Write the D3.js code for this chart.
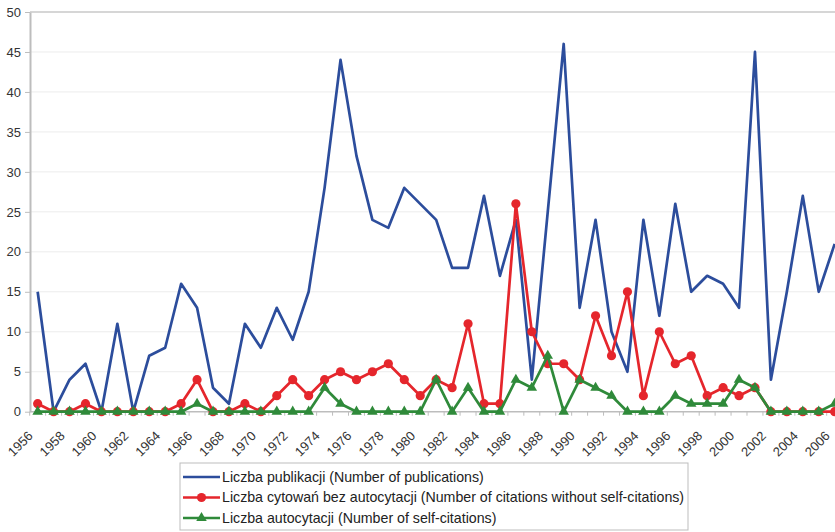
<!DOCTYPE html>
<html>
<head>
<meta charset="utf-8">
<script src="https://cdn.jsdelivr.net/npm/d3@7"></script>
<style>
  body { margin: 0; background: #fff; }
  svg { display: block; font-family: "Liberation Sans", Arial, sans-serif; }
  .axis path, .axis line { stroke: #bdbdbd; }
  .axis text { fill: #333; }
</style>
</head>
<body>
<svg id="chart" width="835" height="532"></svg>
<script>
"use strict";
// years on the category axis
const years = d3.range(1956, 2007);
const yTicks = [0, 5, 10, 15, 20, 25, 30, 35, 40, 45, 50];

const publications = [15, 0, 4, 6, 0, 11, 0, 7, 8, 16, 13, 3, 1, 11, 8, 13, 9, 15, 28, 44,
  32, 24, 23, 28, 26, 24, 18, 18, 27, 17, 24, 4, 25, 46, 13, 24, 10, 5, 24, 12,
  26, 15, 17, 16, 13, 45, 4, 15, 27, 15, 21];
const citations = [1, 0, 0, 1, 0, 0, 0, 0, 0, 1, 4, 0, 0, 1, 0, 2, 4, 2, 4, 5,
  4, 5, 6, 4, 2, 4, 3, 11, 1, 1, 26, 10, 6, 6, 4, 12, 7, 15, 2, 10,
  6, 7, 2, 3, 2, 3, 0, 0, 0, 0, 0];
const selfCitations = [0, 0, 0, 0, 0, 0, 0, 0, 0, 0, 1, 0, 0, 0, 0, 0, 0, 0, 3, 1,
  0, 0, 0, 0, 0, 4, 0, 3, 0, 0, 4, 3, 7, 0, 4, 3, 2, 0, 0, 0,
  2, 1, 1, 1, 4, 3, 0, 0, 0, 0, 1];

const seriesNames = [
  "Liczba publikacji (Number of publications)",
  "Liczba cytowań bez autocytacji (Number of citations without self-citations)",
  "Liczba autocytacji (Number of self-citations)"
];
const COLORS = { blue: "#2c4d9c", red: "#e5262c", green: "#2f8a3a" };

const svg = d3.select("#chart");
const margin = { left: 30, top: 12 };
const bandW = 15.94;
const plotBottom = 411.7;
const plotRight = 835;

const x = d3.scaleBand().domain(years)
  .range([29.7, 29.7 + years.length * bandW]);
const y = d3.scaleLinear().domain([0, 50]).range([plotBottom, margin.top]);
const cx = d => x(d) + x.bandwidth() / 2;

// gridlines
svg.append("g").selectAll("line")
  .data(yTicks.slice(1))
  .join("line")
  .attr("x1", margin.left).attr("x2", plotRight)
  .attr("y1", d => y(d)).attr("y2", d => y(d))
  .style("stroke", d => d === 50 ? "#c8c8c8" : "#ececec")
  .style("stroke-width", d => d === 50 ? 1.5 : 1);

// y axis
const yAxis = svg.append("g").attr("class", "axis")
  .attr("transform", `translate(${margin.left},0)`)
  .call(d3.axisLeft(y).tickValues(yTicks).tickSize(5).tickSizeOuter(0).tickPadding(4));
yAxis.select(".domain").style("stroke-width", 2);
yAxis.selectAll("text").style("font-size", "13px");

// x axis
const xAxis = svg.append("g").attr("class", "axis")
  .attr("transform", `translate(0,${plotBottom})`)
  .call(d3.axisBottom(x).tickSize(4).tickSizeOuter(0)
    .tickFormat(d => d % 2 === 0 ? d : ""));
xAxis.select(".domain").attr("d", `M${margin.left},0H${plotRight}`).style("stroke-width", 1.5);
xAxis.selectAll(".tick line").attr("x1", -bandW / 2).attr("x2", -bandW / 2);
xAxis.selectAll(".tick text")
  .style("font-size", "13px")
  .attr("text-anchor", "end")
  .attr("y", 0).attr("dy", 0)
  .attr("transform", "translate(-4,25) rotate(-45)");

const line = d3.line().x((d, i) => cx(years[i])).y(d => y(d));
const marks = svg.append("g");

function drawSeries(values, color) {
  marks.append("path")
    .datum(values)
    .attr("d", line)
    .style("fill", "none")
    .style("stroke", color)
    .style("stroke-width", 2.7)
    .style("stroke-linejoin", "round");
}

drawSeries(publications, COLORS.blue);
drawSeries(citations, COLORS.red);
marks.append("g").selectAll("circle")
  .data(citations)
  .join("circle")
  .attr("cx", (d, i) => cx(years[i]))
  .attr("cy", d => y(d))
  .attr("r", 4.6)
  .style("fill", COLORS.red);

drawSeries(selfCitations, COLORS.green);
const tri = d3.symbol().type(d3.symbolTriangle).size(48);
marks.append("g").selectAll("path")
  .data(selfCitations)
  .join("path")
  .attr("d", tri)
  .attr("transform", (d, i) => `translate(${cx(years[i])},${y(d)})`)
  .style("fill", COLORS.green);

// legend
const legend = svg.append("g").attr("transform", "translate(180,463)");
legend.append("rect")
  .attr("width", 508).attr("height", 67)
  .style("fill", "#fff").style("stroke", "#bdbdbd").style("stroke-width", 1);
const legendColors = [COLORS.blue, COLORS.red, COLORS.green];
const rows = legend.selectAll("g.row")
  .data(seriesNames)
  .join("g")
  .attr("class", "row")
  .attr("transform", (d, i) => `translate(0,${14 + i * 20.5})`);
rows.append("line")
  .attr("x1", 3).attr("x2", 40)
  .style("stroke", (d, i) => legendColors[i])
  .style("stroke-width", 2.6);
rows.filter((d, i) => i === 1).append("circle")
  .attr("cx", 21.5).attr("r", 4.6).style("fill", COLORS.red);
rows.filter((d, i) => i === 2).append("path")
  .attr("d", tri).attr("transform", "translate(21.5,0)").style("fill", COLORS.green);
rows.append("text")
  .attr("x", 42).attr("dy", "0.35em")
  .style("font-size", "14.2px").style("fill", "#222")
  .text(d => d);
</script>
</body>
</html>
